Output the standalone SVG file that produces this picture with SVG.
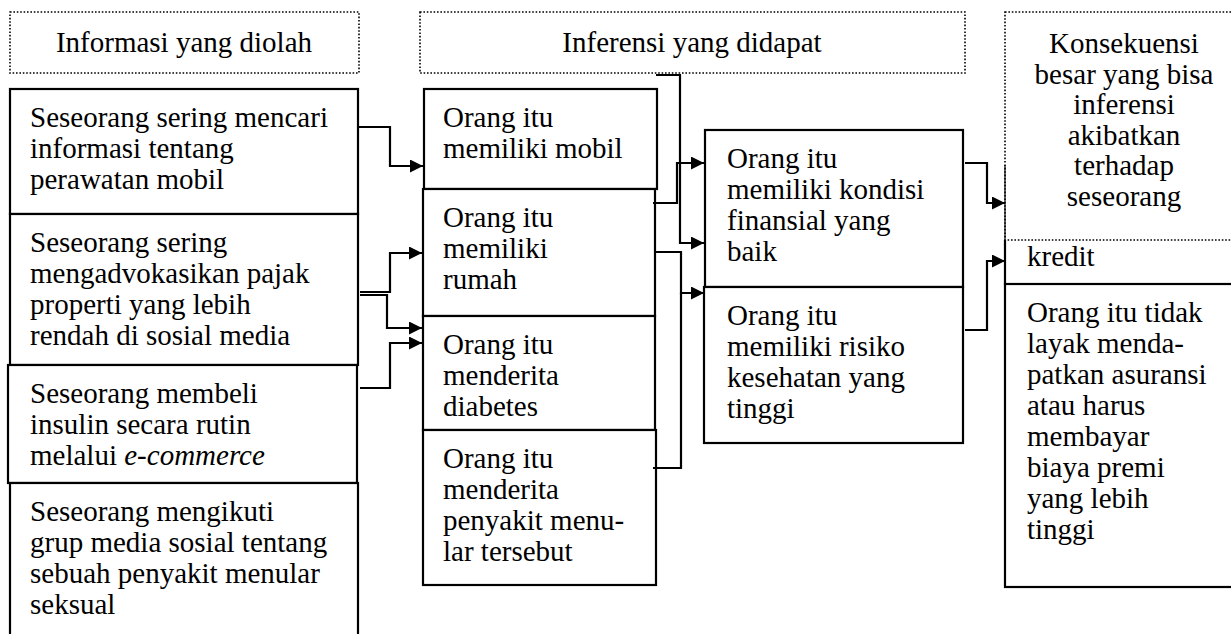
<svg xmlns="http://www.w3.org/2000/svg" width="1231" height="634" viewBox="0 0 1231 634">
<style>
text{font-family:"Liberation Serif","Times New Roman",serif;font-size:29px;fill:#000}
.c{text-anchor:middle}
.box{fill:#fff;stroke:#000;stroke-width:2.2}
.dot{fill:none;stroke:#000;stroke-width:1.6;stroke-dasharray:1.6 1.8}
.ln{fill:none;stroke:#000;stroke-width:2.2}
.it{font-style:italic}
</style>
<defs>
<marker id="ah" markerUnits="userSpaceOnUse" markerWidth="14" markerHeight="13" refX="13" refY="6.5" orient="auto">
<path d="M0,0 L13,6.5 L0,13 z" fill="#000"/>
</marker>
</defs>
<rect width="1231" height="634" fill="#fff"/>

<g id="hdr1"><rect class="dot" x="10" y="12" width="349" height="61"/><text class="c" x="184" y="52">Informasi yang diolah</text></g>
<g id="hdr2"><rect class="dot" x="420" y="12" width="545" height="61"/><text class="c" x="692" y="52">Inferensi yang didapat</text></g>
<g id="hdr3"><rect class="dot" x="1005" y="12" width="240" height="228"/><path d="M1005,165 V240" stroke="#000" stroke-width="1.2"/>
<text class="c" x="1124" y="53">Konsekuensi</text><text class="c" x="1124" y="83.5">besar yang bisa</text><text class="c" x="1124" y="114">inferensi</text><text class="c" x="1124" y="144.5">akibatkan</text><text class="c" x="1124" y="175">terhadap</text><text class="c" x="1124" y="205.5">seseorang</text></g>

<g id="inA"><rect class="box" x="10" y="89" width="348" height="125"/><text x="30" y="127">Seseorang sering mencari</text><text x="30" y="158">informasi tentang</text><text x="30" y="189">perawatan mobil</text></g>
<g id="inB"><rect class="box" x="10" y="214" width="348" height="151"/><text x="30" y="252">Seseorang sering</text><text x="30" y="283">mengadvokasikan pajak</text><text x="30" y="314">properti yang lebih</text><text x="30" y="345">rendah di sosial media</text></g>
<g id="inC"><rect class="box" x="8" y="365" width="349" height="118"/><text x="30" y="403">Seseorang membeli</text><text x="30" y="434">insulin secara rutin</text><text x="30" y="465">melalui <tspan class="it">e-commerce</tspan></text></g>
<g id="inD"><rect class="box" x="10" y="483" width="348" height="170"/><text x="30" y="521">Seseorang mengikuti</text><text x="30" y="552">grup media sosial tentang</text><text x="30" y="583">sebuah penyakit menular</text><text x="30" y="614">seksual</text></g>

<g id="m1"><rect class="box" x="424" y="89" width="233" height="100"/><text x="443" y="127">Orang itu</text><text x="443" y="158">memiliki mobil</text></g>
<g id="m2"><rect class="box" x="423" y="189" width="232" height="127"/><text x="443" y="227">Orang itu</text><text x="443" y="258">memiliki</text><text x="443" y="289">rumah</text></g>
<g id="m3"><rect class="box" x="423" y="316" width="232" height="114"/><text x="443" y="354">Orang itu</text><text x="443" y="385">menderita</text><text x="443" y="416">diabetes</text></g>
<g id="m4"><rect class="box" x="423" y="430" width="233" height="155"/><text x="443" y="468">Orang itu</text><text x="443" y="499">menderita</text><text x="443" y="530">penyakit menu-</text><text x="443" y="561">lar tersebut</text></g>

<g id="r1"><rect class="box" x="705" y="130" width="258" height="157"/><text x="727" y="168">Orang itu</text><text x="727" y="199">memiliki kondisi</text><text x="727" y="230">finansial yang</text><text x="727" y="261">baik</text></g>
<g id="r2"><rect class="box" x="704" y="287" width="259" height="156"/><text x="727" y="325">Orang itu</text><text x="727" y="356">memiliki risiko</text><text x="727" y="387">kesehatan yang</text><text x="727" y="418">tinggi</text></g>

<g id="kredit"><path class="ln" d="M1005,240 V284 H1240"/><text x="1027" y="266">kredit</text></g>
<g id="konsekuensi"><rect class="box" x="1005" y="284" width="240" height="303"/><text x="1027" y="322">Orang itu tidak</text><text x="1027" y="353">layak menda-</text><text x="1027" y="384">patkan asuransi</text><text x="1027" y="415">atau harus</text><text x="1027" y="446">membayar</text><text x="1027" y="477">biaya premi</text><text x="1027" y="508">yang lebih</text><text x="1027" y="539">tinggi</text></g>

<g id="connectors">
<path class="ln" d="M359,127 H390 V166 H423" marker-end="url(#ah)"/>
<path class="ln" d="M360,292 H390 V253 H422" marker-end="url(#ah)"/>
<path class="ln" d="M360,295 H387 V328 H422" marker-end="url(#ah)"/>
<path class="ln" d="M360,388 H390 V343 H422" marker-end="url(#ah)"/>
<path class="ln" d="M653,203 H677 V163 H704" marker-end="url(#ah)"/>
<path class="ln" d="M656,75 H680 V243 H704" marker-end="url(#ah)"/>
<path class="ln" d="M656,252 H681 V293 H704" marker-end="url(#ah)"/>
<path class="ln" d="M653,468 H681 V293"/>
<path class="ln" d="M965,163 H987 V203 H1005" marker-end="url(#ah)"/>
<path class="ln" d="M965,330 H987 V261 H1005" marker-end="url(#ah)"/>
</g>
</svg>
